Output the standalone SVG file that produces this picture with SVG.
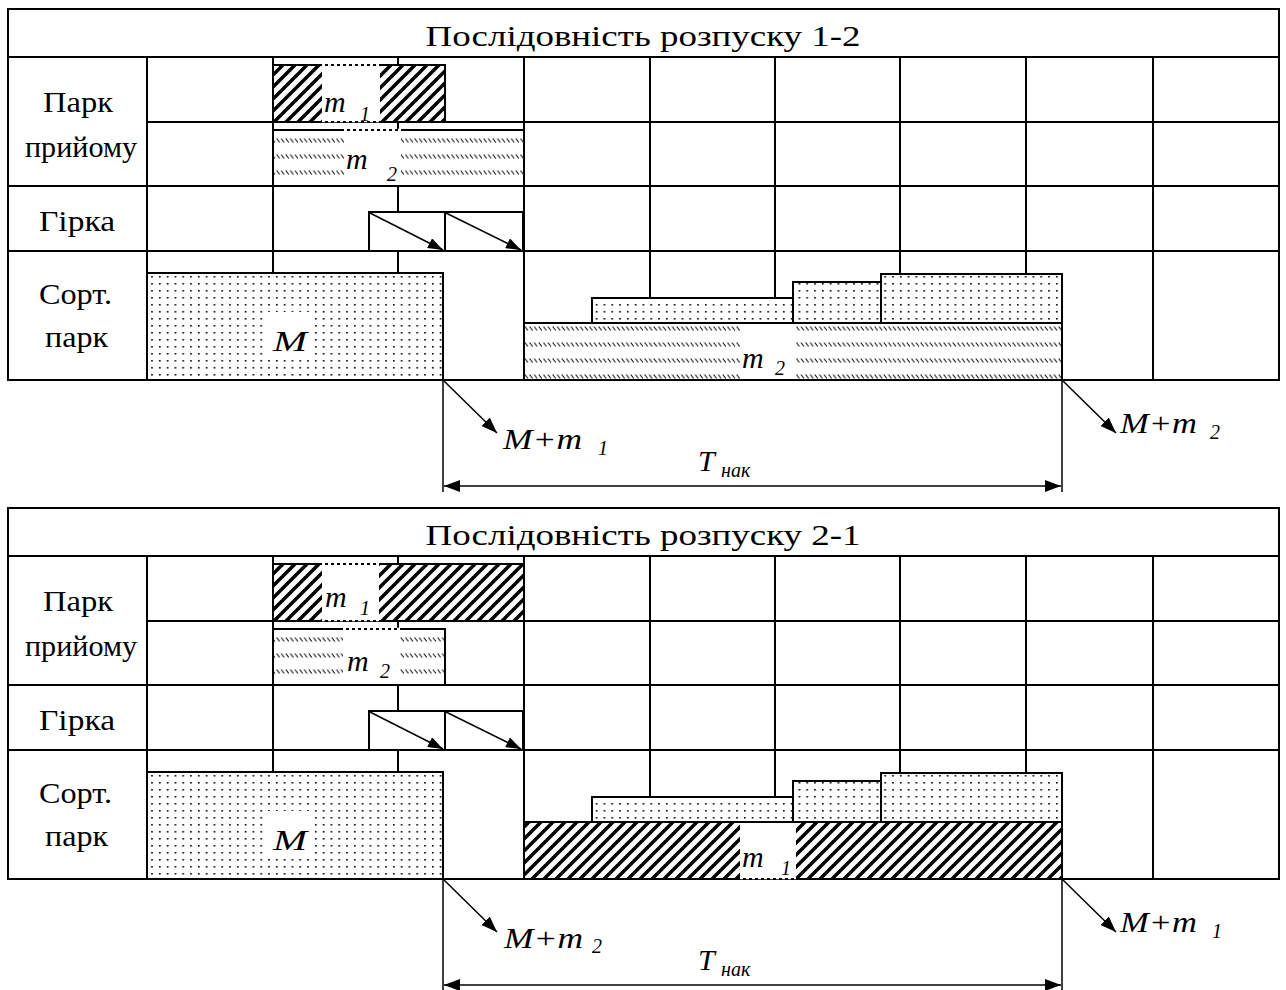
<svg xmlns="http://www.w3.org/2000/svg" width="1286" height="990" viewBox="0 0 1286 990">
<style>
.ln{stroke:#000;stroke-width:2;fill:none}
.bx{stroke:#000;stroke-width:2;fill:none}
.wf{fill:#fff}
.ar{stroke:#000;stroke-width:1.5;fill:none}
.tx{font-family:"Liberation Serif","Times New Roman",serif;font-size:30px;fill:#000}
.it{font-family:"Liberation Serif","Times New Roman",serif;font-style:italic;font-weight:normal;font-size:30px;fill:#000}
.sb{font-family:"Liberation Serif","Times New Roman",serif;font-style:italic;font-weight:normal;font-size:20px;fill:#000}
.dsh{stroke:#fff;stroke-width:2.5;stroke-dasharray:3 3;fill:none}
</style>
<defs>
<pattern id="dots" patternUnits="userSpaceOnUse" width="7.8" height="7"><rect x="3" y="3" width="1.6" height="1.6" fill="#000"/></pattern>
<pattern id="h1" patternUnits="userSpaceOnUse" width="12" height="12"><path d="M-3,3 L3,-3 M0,12 L12,0 M9,15 L15,9" stroke="#000" stroke-width="3.5"/></pattern>
<pattern id="h2a" patternUnits="userSpaceOnUse" width="4.6" height="16" y="10"><path d="M0.6,0.5 L3.6,4.5" stroke="#111" stroke-width="1.1"/></pattern>
<pattern id="h2b" patternUnits="userSpaceOnUse" width="4.6" height="16" y="6"><path d="M0.6,0.5 L3.6,4.5" stroke="#111" stroke-width="1.1"/></pattern>
<marker id="ah" markerUnits="userSpaceOnUse" markerWidth="16" markerHeight="12" refX="16" refY="6" orient="auto-start-reverse" viewBox="0 0 16 12"><path d="M0,0 L16,6 L0,12 z" fill="#000"/></marker>
<marker id="ahs" markerUnits="userSpaceOnUse" markerWidth="15" markerHeight="11" refX="15" refY="5.5" orient="auto" viewBox="0 0 15 11"><path d="M0,0 L15,5.5 L0,11 z" fill="#000"/></marker>
</defs>
<rect width="1286" height="990" fill="#fff"/>

<!-- ===== Table 1 ===== -->
<g id="table1">
  <g id="t1-grid">
    <rect x="8" y="9" width="1271" height="371" class="ln"/>
    <path class="ln" d="M8,57H1279 M147,122H1279 M8,186H1279 M8,251H1279 M147,57V380 M273,57V380 M398,57V380 M524,57V380 M650,57V380 M775,57V380 M900,57V380 M1026,57V380 M1153,57V380"/>
  </g>
  <g id="t1-title"><text class="tx" x="643" y="45.5" text-anchor="middle" textLength="435" lengthAdjust="spacingAndGlyphs">Послідовність розпуску 1-2</text></g>
  <g id="t1-labels">
    <text class="tx" x="78" y="112" text-anchor="middle" textLength="70" lengthAdjust="spacingAndGlyphs">Парк</text>
    <text class="tx" x="81" y="157" text-anchor="middle" textLength="112" lengthAdjust="spacingAndGlyphs">прийому</text>
    <text class="tx" x="77" y="231" text-anchor="middle" textLength="76" lengthAdjust="spacingAndGlyphs">Гірка</text>
    <text class="tx" x="75.5" y="304" text-anchor="middle" textLength="73" lengthAdjust="spacingAndGlyphs">Сорт.</text>
    <text class="tx" x="76.5" y="347" text-anchor="middle" textLength="63" lengthAdjust="spacingAndGlyphs">парк</text>
  </g>
  <g id="t1-m1">
    <rect x="273" y="65" width="172" height="57" class="wf"/>
    <rect x="273" y="65" width="172" height="57" fill="url(#h1)"/>
    <rect x="322" y="66" width="58" height="55" class="wf"/>
    <rect x="273" y="65" width="172" height="57" class="bx"/>
    <path class="dsh" d="M322,65H380 M322,121H380"/>
    <text class="it" x="324" y="112">m</text><text class="sb" x="360" y="121">1</text>
  </g>
  <g id="t1-m2">
    <rect x="273" y="130" width="251" height="56" class="wf"/>
    <rect x="273" y="130" width="251" height="56" fill="url(#h2a)"/>
    <rect x="344" y="131" width="57" height="54" class="wf"/>
    <rect x="273" y="130" width="251" height="56" class="bx"/>
    <path class="dsh" d="M344,130H401"/>
    <text class="it" x="346" y="169">m</text><text class="sb" x="387" y="181">2</text>
  </g>
  <g id="t1-hump1"><rect x="369" y="212" width="76" height="39" class="wf"/><rect x="369" y="212" width="76" height="39" class="bx"/></g>
  <g id="t1-hump2"><rect x="445" y="212" width="78" height="39" class="wf"/><rect x="445" y="212" width="78" height="39" class="bx"/></g>
  <g id="t1-M">
    <rect x="147" y="273" width="296" height="107" class="wf"/>
    <rect x="147" y="273" width="296" height="107" fill="url(#dots)"/>
    <rect x="267" y="312" width="45" height="48" class="wf"/>
    <rect x="147" y="273" width="296" height="107" class="bx"/>
    <text class="it" x="273" y="351" font-size="32" textLength="34" lengthAdjust="spacingAndGlyphs">M</text>
  </g>
  <g id="t1-bm2">
    <rect x="524" y="323" width="538" height="57" class="wf"/>
    <rect x="524" y="323" width="538" height="57" fill="url(#h2b)"/>
    <rect x="740" y="324" width="56" height="55" class="wf"/>
    <rect x="524" y="323" width="538" height="57" class="bx"/>
    <text class="it" x="742" y="368">m</text><text class="sb" x="775" y="375">2</text>
  </g>
  <g id="t1-s1">
    <rect x="592" y="298" width="201" height="25" class="wf"/><rect x="592" y="298" width="201" height="25" fill="url(#dots)"/><rect x="592" y="298" width="201" height="25" class="bx"/>
  </g>
  <g id="t1-s2">
    <rect x="793" y="282" width="88" height="41" class="wf"/><rect x="793" y="282" width="88" height="41" fill="url(#dots)"/><rect x="793" y="282" width="88" height="41" class="bx"/>
  </g>
  <g id="t1-s3">
    <rect x="881" y="274" width="181" height="49" class="wf"/><rect x="881" y="274" width="181" height="49" fill="url(#dots)"/><rect x="881" y="274" width="181" height="49" class="bx"/>
  </g>
  <g id="t1-connectors">
    <line class="ar" x1="370" y1="213" x2="443" y2="250" marker-end="url(#ahs)"/>
    <line class="ar" x1="446" y1="213" x2="521" y2="250" marker-end="url(#ahs)"/>
    <line class="ar" x1="443" y1="380" x2="497" y2="433" marker-end="url(#ah)"/>
    <line class="ar" x1="1062" y1="380" x2="1116" y2="433" marker-end="url(#ah)"/>
    <line class="ar" x1="443" y1="380" x2="443" y2="492"/>
    <line class="ar" x1="1062" y1="380" x2="1062" y2="492"/>
    <line class="ar" x1="444" y1="486" x2="1061" y2="486" marker-start="url(#ah)" marker-end="url(#ah)"/>
  </g>
  <g id="t1-annot">
    <text class="it" x="503" y="449" textLength="79" lengthAdjust="spacingAndGlyphs">M+m</text><text class="sb" x="598" y="455">1</text>
    <text class="it" x="1120" y="433" textLength="77" lengthAdjust="spacingAndGlyphs">M+m</text><text class="sb" x="1210" y="439">2</text>
    <text class="it" x="698" y="471">T</text><text class="sb" x="721" y="477">нак</text>
  </g>
</g>

<!-- ===== Table 2 ===== -->
<g id="table2" transform="translate(0,499)">
  <g id="t2-grid">
    <rect x="8" y="9" width="1271" height="371" class="ln"/>
    <path class="ln" d="M8,57H1279 M147,122H1279 M8,186H1279 M8,251H1279 M147,57V380 M273,57V380 M398,57V380 M524,57V380 M650,57V380 M775,57V380 M900,57V380 M1026,57V380 M1153,57V380"/>
  </g>
  <g id="t2-title"><text class="tx" x="643" y="45.5" text-anchor="middle" textLength="435" lengthAdjust="spacingAndGlyphs">Послідовність розпуску 2-1</text></g>
  <g id="t2-labels">
    <text class="tx" x="78" y="112" text-anchor="middle" textLength="70" lengthAdjust="spacingAndGlyphs">Парк</text>
    <text class="tx" x="81" y="157" text-anchor="middle" textLength="112" lengthAdjust="spacingAndGlyphs">прийому</text>
    <text class="tx" x="77" y="231" text-anchor="middle" textLength="76" lengthAdjust="spacingAndGlyphs">Гірка</text>
    <text class="tx" x="75.5" y="304" text-anchor="middle" textLength="73" lengthAdjust="spacingAndGlyphs">Сорт.</text>
    <text class="tx" x="76.5" y="347" text-anchor="middle" textLength="63" lengthAdjust="spacingAndGlyphs">парк</text>
  </g>
  <g id="t2-m1">
    <rect x="273" y="65" width="251" height="57" class="wf"/>
    <rect x="273" y="65" width="251" height="57" fill="url(#h1)"/>
    <rect x="322" y="66" width="57" height="55" class="wf"/>
    <rect x="273" y="65" width="251" height="57" class="bx"/>
    <path class="dsh" d="M322,65H379 M322,121H379"/>
    <text class="it" x="325" y="108">m</text><text class="sb" x="360" y="116">1</text>
  </g>
  <g id="t2-m2">
    <rect x="273" y="130" width="172" height="56" class="wf"/>
    <rect x="273" y="130" width="172" height="56" fill="url(#h2a)"/>
    <rect x="343" y="131" width="57" height="54" class="wf"/>
    <rect x="273" y="130" width="172" height="56" class="bx"/>
    <path class="dsh" d="M343,130H400"/>
    <text class="it" x="347" y="172">m</text><text class="sb" x="380" y="179">2</text>
  </g>
  <g id="t2-hump1"><rect x="369" y="212" width="76" height="39" class="wf"/><rect x="369" y="212" width="76" height="39" class="bx"/></g>
  <g id="t2-hump2"><rect x="445" y="212" width="78" height="39" class="wf"/><rect x="445" y="212" width="78" height="39" class="bx"/></g>
  <g id="t2-M">
    <rect x="147" y="273" width="296" height="107" class="wf"/>
    <rect x="147" y="273" width="296" height="107" fill="url(#dots)"/>
    <rect x="267" y="312" width="45" height="48" class="wf"/>
    <rect x="147" y="273" width="296" height="107" class="bx"/>
    <text class="it" x="273" y="351" font-size="32" textLength="34" lengthAdjust="spacingAndGlyphs">M</text>
  </g>
  <g id="t2-bm1">
    <rect x="524" y="323" width="538" height="57" class="wf"/>
    <rect x="524" y="323" width="538" height="57" fill="url(#h1)"/>
    <rect x="740" y="324" width="56" height="55" class="wf"/>
    <rect x="524" y="323" width="538" height="57" class="bx"/>
    <path class="dsh" d="M740,323H796 M740,379H796"/>
    <text class="it" x="742" y="368">m</text><text class="sb" x="781" y="376">1</text>
  </g>
  <g id="t2-s1">
    <rect x="592" y="298" width="201" height="25" class="wf"/><rect x="592" y="298" width="201" height="25" fill="url(#dots)"/><rect x="592" y="298" width="201" height="25" class="bx"/>
  </g>
  <g id="t2-s2">
    <rect x="793" y="282" width="88" height="41" class="wf"/><rect x="793" y="282" width="88" height="41" fill="url(#dots)"/><rect x="793" y="282" width="88" height="41" class="bx"/>
  </g>
  <g id="t2-s3">
    <rect x="881" y="274" width="181" height="49" class="wf"/><rect x="881" y="274" width="181" height="49" fill="url(#dots)"/><rect x="881" y="274" width="181" height="49" class="bx"/>
  </g>
  <g id="t2-connectors">
    <line class="ar" x1="370" y1="213" x2="443" y2="250" marker-end="url(#ahs)"/>
    <line class="ar" x1="446" y1="213" x2="521" y2="250" marker-end="url(#ahs)"/>
    <line class="ar" x1="443" y1="380" x2="497" y2="433" marker-end="url(#ah)"/>
    <line class="ar" x1="1062" y1="380" x2="1116" y2="433" marker-end="url(#ah)"/>
    <line class="ar" x1="443" y1="380" x2="443" y2="492"/>
    <line class="ar" x1="1062" y1="380" x2="1062" y2="492"/>
    <line class="ar" x1="444" y1="486" x2="1061" y2="486" marker-start="url(#ah)" marker-end="url(#ah)"/>
  </g>
  <g id="t2-annot">
    <text class="it" x="504" y="449" textLength="79" lengthAdjust="spacingAndGlyphs">M+m</text><text class="sb" x="592" y="454">2</text>
    <text class="it" x="1120" y="433" textLength="77" lengthAdjust="spacingAndGlyphs">M+m</text><text class="sb" x="1212" y="439">1</text>
    <text class="it" x="698" y="471">T</text><text class="sb" x="721" y="477">нак</text>
  </g>
</g>
</svg>
